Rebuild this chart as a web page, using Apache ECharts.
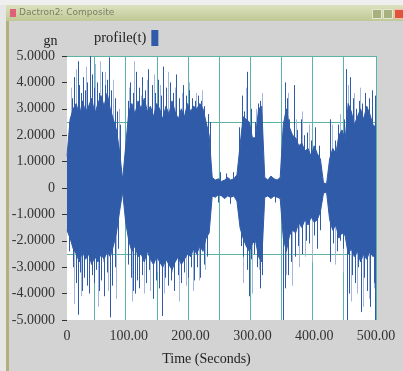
<!DOCTYPE html>
<html>
<head>
<meta charset="utf-8">
<script src="https://cdn.jsdelivr.net/npm/echarts@6/dist/echarts.min.js"></script>
<style>
  html, body { margin: 0; padding: 0; background: #d3d3d3; }
  #chart { width: 403px; height: 371px; }
</style>
</head>
<body>
<div id="chart"></div>
<script>
// envelope of the dense part of the signal, one value every 5 s (0..500)
const timeStep = 5;
const upper = [
  1.2, 2.6, 3.0, 3.2, 2.7, 3.3, 2.9, 3.1, 3.4, 2.8,
  3.2, 3.5, 3.1, 3.6, 3.0, 2.6, 2.2, 1.4, 0.3, 1.6,
  2.9, 3.2, 2.8, 3.3, 3.0, 3.4, 2.9, 3.1, 2.7, 3.2,
  3.0, 2.6, 3.1, 2.8, 3.3, 2.9, 2.6, 3.0, 2.7, 3.2,
  2.9, 3.1, 3.0, 3.2, 3.0, 2.5, 2.0, 0.4, 0.3, 0.35,
  0.25, 0.3, 0.4, 0.3, 0.35, 0.5, 1.6, 2.7, 2.6, 2.5,
  1.9, 1.9, 3.0, 3.1, 0.4, 0.3, 0.45, 0.35, 0.3, 0.4,
  2.4, 3.0, 2.3, 2.0, 1.9, 1.6, 1.7, 1.4, 1.5, 1.2,
  1.6, 1.3, 1.1, 0.2, 0.15, 1.1, 1.5, 1.3, 2.0, 2.2,
  1.8, 3.2, 2.9, 2.4, 2.7, 3.0, 2.6, 3.1, 2.8, 2.4,
  2.3
];
const lower = [
  -1.6, -1.9, -2.3, -2.5, -2.8, -2.4, -2.7, -2.5, -2.9, -2.6,
  -2.8, -2.5, -2.7, -2.4, -2.6, -2.2, -1.7, -0.9, -0.15, -1.3,
  -2.0, -2.4, -2.2, -2.6, -2.5, -2.8, -2.4, -2.7, -2.9, -2.6,
  -2.8, -3.0, -2.7, -2.9, -3.1, -2.8, -2.6, -2.9, -2.7, -2.5,
  -2.6, -2.3, -2.5, -2.2, -2.4, -1.9, -1.7, -0.3, -0.35, -0.25,
  -0.3, -0.4, -0.3, -0.35, -0.3, -0.5, -1.5, -1.9, -2.2, -2.4,
  -2.1, -2.0, -2.6, -2.8, -0.35, -0.3, -0.4, -0.3, -0.35, -0.4,
  -1.9, -2.4, -1.8, -1.6, -1.7, -1.3, -1.5, -1.2, -1.4, -1.1,
  -1.3, -1.2, -0.9, -0.2, -0.15, -1.2, -1.6, -1.4, -1.9, -1.7,
  -1.8, -2.5, -2.3, -2.6, -2.4, -2.8, -2.5, -2.7, -2.4, -2.6,
  -2.5
];

// single peaks sticking out of the envelope: [time, value]
const spikesDark = [
  [3, 2.5], [8, 3.4], [12, 4.2], [17, 4.8], [19, 3.9], [22, 3.6], [26, 4.2], [29, 3.7],
  [33, 4.0], [38, 5.0], [41, 4.3], [44, 3.8], [48, 4.0], [52, 3.6], [57, 4.4], [61, 3.9],
  [64, 4.1], [68, 4.95], [72, 3.7], [77, 3.4], [81, 2.9], [86, 2.4], [98, 3.3], [102, 4.0],
  [107, 3.6], [111, 4.4], [116, 3.8], [121, 4.2], [126, 3.7], [131, 4.5], [137, 3.9], [142, 3.6],
  [147, 4.1], [152, 3.5], [156, 4.6], [161, 3.8], [166, 4.0], [172, 3.6], [177, 4.3], [182, 3.4],
  [188, 3.9], [193, 3.5], [198, 3.7], [203, 3.4], [207, 3.3], [212, 3.5], [217, 3.3], [222, 3.1],
  [228, 2.8], [232, 2.5], [247, 0.6], [258, 0.55], [268, 0.6], [279, 2.3], [283, 3.5], [287, 2.9],
  [292, 4.4], [297, 3.0], [305, 2.5], [309, 3.2], [313, 3.3], [353, 4.0], [356, 3.4], [360, 2.6],
  [367, 3.9], [372, 2.2], [378, 2.6], [383, 2.0], [389, 2.1], [395, 1.8], [402, 2.3], [407, 1.6],
  [426, 2.6], [433, 1.8], [439, 2.4], [444, 2.1], [449, 2.6], [452, 4.5], [458, 4.2], [463, 3.4],
  [468, 3.0], [473, 3.3], [478, 3.2], [483, 3.6], [488, 3.4], [493, 3.7], [498, 3.5],
  [4, -2.4], [9, -3.0], [14, -3.6], [18, -4.8], [21, -3.2], [25, -3.9], [28, -3.4], [32, -3.7],
  [36, -4.0], [40, -3.3], [43, -3.6], [47, -3.1], [51, -3.9], [55, -3.5], [60, -4.1], [65, -3.2],
  [70, -4.9], [73, -3.7], [78, -3.0], [82, -2.3], [99, -2.9], [103, -3.4], [106, -3.9], [110, -4.0],
  [113, -3.5], [117, -3.8], [122, -3.3], [128, -3.6], [133, -3.1], [139, -4.2], [144, -3.5], [149, -3.8],
  [153, -4.85], [158, -3.4], [163, -3.7], [168, -3.5], [173, -3.9], [179, -3.3], [184, -3.6], [189, -3.2],
  [195, -3.4], [200, -3.0], [206, -3.5], [211, -3.0], [216, -3.4], [221, -2.9], [226, -2.6], [244, -0.55],
  [263, -0.6], [281, -2.2], [285, -2.6], [291, -3.1], [294, -4.1], [298, -2.7], [303, -2.5], [307, -3.0],
  [312, -3.8], [316, -3.3], [337, -0.55], [349, -5.0], [352, -3.8], [357, -3.3], [363, -2.8], [369, -2.6],
  [374, -2.2], [381, -2.5], [386, -2.0], [392, -2.1], [399, -1.8], [404, -2.3], [410, -1.6], [425, -2.8],
  [431, -2.1], [437, -2.4], [442, -2.0], [447, -2.3], [453, -5.0], [456, -4.0], [461, -3.3], [466, -3.6],
  [471, -3.0], [476, -4.7], [480, -3.4], [486, -3.9], [491, -4.5], [496, -3.6], [499, -5.0]
];
const spikesLight = [
  [6, 3.8], [11, -4.4], [15, 4.5], [23, -4.1], [31, 4.6], [35, -2.9], [46, 4.7], [50, -4.5],
  [54, 4.8], [58, -2.8], [62, 4.4], [67, -3.9], [75, 4.1], [80, -4.2], [84, 3.0], [101, 3.8],
  [105, -4.3], [109, 4.8], [114, -3.1], [119, 3.5], [124, -4.0], [129, 4.1], [135, -3.9], [140, 4.3],
  [146, -3.2], [151, 3.9], [157, -4.0], [164, 4.4], [170, -3.2], [175, 3.8], [181, -4.3], [186, 3.6],
  [192, -3.7], [197, 4.0], [204, -3.9], [209, 3.6], [214, -3.5], [219, 3.7], [224, -3.1], [284, -3.6],
  [289, 3.8], [300, -4.0], [306, 3.0], [311, -3.1], [315, 3.6], [355, -3.3], [358, 3.6], [364, -3.7],
  [370, 2.6], [376, -3.0], [380, 2.9], [385, -2.6], [391, 2.4], [397, -2.8], [401, 2.2], [429, 2.4],
  [434, -2.9], [441, 2.8], [446, -3.2], [454, 3.9], [459, -4.3], [464, 3.6], [469, -4.0], [474, 3.8],
  [479, -4.5], [484, 3.0], [489, -4.2], [494, 3.3], [497, -3.8]
];

// grid lines of the original plot (not on the label ticks)
const gridX = [44, 94.5, 145, 195.5, 246, 296, 347, 397, 447, 500];
const gridY = [5, 2.5, -2.5];

const BLUE = '#2f5ba8';
const LIGHT = '#a4b7de';
const TEAL = '#5cb3a6';
const FONT = '"Liberation Serif", "DejaVu Serif", serif';

const times = upper.map((_, i) => i * timeStep);
const chart = echarts.init(document.getElementById('chart'));

function spike(color) {
  return (params, api) => {
    const a = api.coord([api.value(0), 0]);
    const b = api.coord([api.value(0), api.value(1)]);
    const x = Math.round(a[0]) + 0.5;
    return { type: 'line', shape: { x1: x, y1: a[1], x2: x, y2: b[1] }, style: { stroke: color, lineWidth: 1 } };
  };
}

chart.setOption({
  backgroundColor: '#d3d3d3',
  animation: false,
  textStyle: { fontFamily: FONT },
  grid: { left: 67, right: 27, top: 56, bottom: 49, show: true, backgroundColor: '#ffffff', borderWidth: 0 },
  legend: {
    data: ['profile(t)'], left: 89, top: 25, align: 'right', icon: 'rect',
    itemWidth: 7, itemHeight: 16, itemGap: 4,
    textStyle: { fontFamily: FONT, fontSize: 14.5, color: '#222' },
    selectedMode: false
  },
  xAxis: {
    type: 'value', min: 0, max: 500, interval: 100,
    name: 'Time (Seconds)', nameLocation: 'middle', nameGap: 32,
    nameTextStyle: { fontFamily: FONT, fontSize: 14, color: '#222', padding: [0, 30, 0, 0] },
    axisLine: { lineStyle: { color: TEAL, width: 1 } },
    axisTick: { length: 4, lineStyle: { color: '#333' } },
    axisLabel: { fontFamily: FONT, fontSize: 14, color: '#333', margin: 9,
      formatter: v => v === 0 ? '0' : v.toFixed(2) },
    splitLine: { show: false }
  },
  yAxis: {
    type: 'value', min: -5, max: 5, interval: 1,
    name: 'gn', nameLocation: 'end', nameGap: 8,
    nameTextStyle: { fontFamily: FONT, fontSize: 14, color: '#222', padding: [0, 33, 0, 0] },
    axisLine: { show: false },
    axisTick: { show: true, length: 5, lineStyle: { color: '#333' } },
    axisLabel: { fontFamily: FONT, fontSize: 14, color: '#333', margin: 12,
      formatter: v => v === 0 ? '0' : v.toFixed(4) },
    splitLine: { show: false }
  },
  graphic: [
    { type: 'rect', left: 0, top: 0, shape: { width: 403, height: 5 }, style: { fill: '#efefef' }, silent: true },
    { type: 'rect', left: 0, top: 5, shape: { width: 6, height: 366 }, style: { fill: '#e6e6e6' }, silent: true },
    { type: 'rect', left: 6, top: 5, shape: { width: 3, height: 366 }, style: { fill: '#b3b07a' }, silent: true },
    { type: 'rect', left: 6, top: 5, shape: { width: 397, height: 16 }, silent: true,
      style: { fill: new echarts.graphic.LinearGradient(0, 0, 0, 1, [
        { offset: 0, color: '#dce2bf' }, { offset: 1, color: '#bfc895' }]) } },
    { type: 'rect', left: 10, top: 9, shape: { width: 6, height: 8 }, style: { fill: '#e0607a' }, silent: true },
    { type: 'text', left: 19, top: 8, silent: true,
      style: { text: 'Dactron2: Composite', font: '9px "DejaVu Sans", sans-serif', fill: '#7c7d64' } },
    { type: 'rect', left: 372, top: 9, shape: { width: 9, height: 9 }, style: { fill: '#a9b07f', stroke: '#e4e8d0' }, silent: true },
    { type: 'rect', left: 383, top: 9, shape: { width: 9, height: 9 }, style: { fill: '#a9b07f', stroke: '#e4e8d0' }, silent: true },
    { type: 'rect', left: 394, top: 9, shape: { width: 9, height: 9 }, style: { fill: '#e0533a', stroke: '#f2c0b0' }, silent: true }
  ],
  series: [
    {
      type: 'custom', name: 'gridX', silent: true, z: 1,
      data: gridX.map(x => [x]),
      renderItem: (params, api) => {
        const a = api.coord([api.value(0), -5]);
        const b = api.coord([api.value(0), 5]);
        const x = Math.round(a[0]) + 0.5;
        return { type: 'line', shape: { x1: x, y1: a[1], x2: x, y2: b[1] }, style: { stroke: TEAL, lineWidth: 1 } };
      }
    },
    {
      type: 'custom', name: 'gridY', silent: true, z: 1,
      data: gridY.map(y => [0, y]),
      renderItem: (params, api) => {
        const a = api.coord([0, api.value(1)]);
        const b = api.coord([500, api.value(1)]);
        const y = Math.round(a[1]) + 0.5;
        return { type: 'line', shape: { x1: a[0], y1: y, x2: b[0], y2: y }, style: { stroke: TEAL, lineWidth: 1 } };
      }
    },
    {
      type: 'custom', name: 'light', silent: true, z: 2,
      data: spikesLight, renderItem: spike(LIGHT)
    },
    {
      type: 'line', name: 'profile(t)', z: 3, showSymbol: false, silent: true,
      data: times.map((t, i) => [t, upper[i]]),
      lineStyle: { color: BLUE, width: 1 }, itemStyle: { color: BLUE },
      areaStyle: { color: BLUE, opacity: 1 }
    },
    {
      type: 'line', name: 'lower', z: 3, showSymbol: false, silent: true,
      data: times.map((t, i) => [t, lower[i]]),
      lineStyle: { color: BLUE, width: 1 }, itemStyle: { color: BLUE },
      areaStyle: { color: BLUE, opacity: 1 }
    },
    {
      type: 'custom', name: 'dark', silent: true, z: 4,
      data: spikesDark, renderItem: spike(BLUE)
    }
  ]
});
</script>
</body>
</html>
